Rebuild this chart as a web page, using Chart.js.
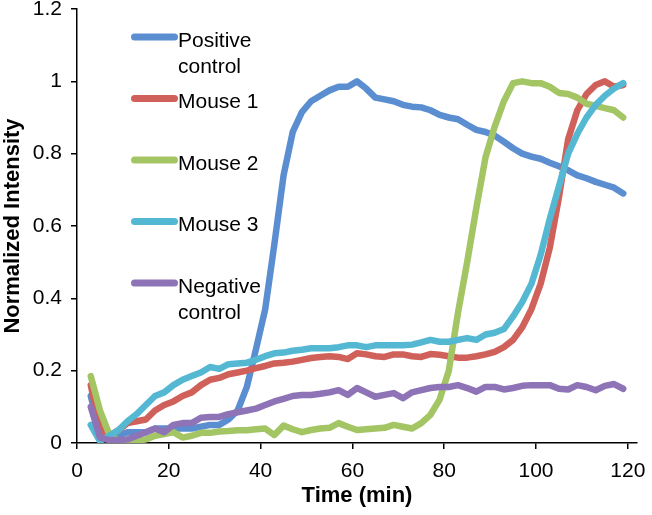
<!DOCTYPE html>
<html>
<head>
<meta charset="utf-8">
<script src="https://cdn.jsdelivr.net/npm/chart.js@4.4.1/dist/chart.umd.min.js"></script>
<style>
  html, body { margin: 0; padding: 0; background: #fff; }
  #wrap { width: 652px; height: 515px; }
</style>
</head>
<body>
<div id="wrap"><canvas id="chart"></canvas></div>
<script>
// Time points (min)
const times = [3, 5, 7, 9, 11, 13, 15, 17, 19, 21, 23, 25, 27, 29, 31, 33, 35, 37, 39, 41,
               43, 45, 47, 49, 51, 53, 55, 57, 59, 61, 63, 65, 67, 69, 71, 73, 75, 77, 79, 81,
               83, 85, 87, 89, 91, 93, 95, 97, 99, 101, 103, 105, 107, 109, 111, 113, 115, 117, 119];

const positiveControl = [0.13, 0.03, 0.01, 0.02, 0.03, 0.03, 0.03, 0.04, 0.04, 0.04,
                         0.04, 0.04, 0.045, 0.05, 0.05, 0.065, 0.09, 0.155, 0.26, 0.37,
                         0.55, 0.74, 0.86, 0.915, 0.945, 0.96, 0.975, 0.985, 0.985, 1.0,
                         0.98, 0.955, 0.95, 0.945, 0.935, 0.93, 0.928, 0.92, 0.907, 0.9,
                         0.895, 0.88, 0.866, 0.86, 0.85, 0.833, 0.815, 0.8, 0.792, 0.786,
                         0.775, 0.765, 0.754, 0.74, 0.732, 0.722, 0.714, 0.706, 0.69];

const mouse1 = [0.16, 0.04, 0.02, 0.035, 0.055, 0.06, 0.065, 0.09, 0.105, 0.115,
                0.13, 0.14, 0.16, 0.175, 0.18, 0.19, 0.195, 0.2, 0.207, 0.213,
                0.22, 0.222, 0.225, 0.23, 0.235, 0.238, 0.24, 0.238, 0.232, 0.248,
                0.245, 0.24, 0.238, 0.245, 0.245, 0.24, 0.238, 0.246, 0.244, 0.24,
                0.236, 0.236, 0.24, 0.245, 0.252, 0.265, 0.285, 0.32, 0.37, 0.44,
                0.54, 0.68, 0.84, 0.92, 0.965, 0.99, 1.0, 0.985, 0.99];

const mouse2 = [0.185, 0.09, 0.025, 0.005, 0.0, 0.005, 0.01, 0.02, 0.025, 0.03,
                0.015, 0.02, 0.028, 0.028, 0.032, 0.033, 0.035, 0.035, 0.038, 0.04,
                0.022, 0.048, 0.038, 0.03, 0.036, 0.04, 0.042, 0.055, 0.045, 0.036,
                0.038, 0.04, 0.042, 0.05, 0.045, 0.04, 0.055, 0.078, 0.12, 0.2,
                0.36, 0.5, 0.65, 0.79, 0.875, 0.945, 0.995, 1.0, 0.995, 0.995,
                0.985, 0.968, 0.965, 0.955, 0.938, 0.932, 0.926, 0.92, 0.9];

const mouse3 = [0.05, 0.005, 0.02, 0.035, 0.06, 0.08, 0.105, 0.13, 0.14, 0.16,
                0.175, 0.185, 0.195, 0.21, 0.205, 0.218, 0.22, 0.222, 0.23, 0.24,
                0.248, 0.25, 0.255, 0.258, 0.262, 0.262, 0.262, 0.265, 0.27, 0.27,
                0.265, 0.27, 0.27, 0.27, 0.27, 0.272, 0.278, 0.285, 0.28, 0.28,
                0.285, 0.29, 0.285, 0.3, 0.305, 0.315, 0.35, 0.39, 0.44, 0.52,
                0.62, 0.71, 0.8, 0.855, 0.9, 0.935, 0.96, 0.98, 0.995];

const negativeControl = [0.1, 0.015, 0.008, 0.008, 0.01, 0.02, 0.03, 0.04, 0.03, 0.05,
                         0.055, 0.055, 0.07, 0.072, 0.072, 0.08, 0.085, 0.09, 0.095, 0.105,
                         0.115, 0.122, 0.13, 0.133, 0.133, 0.136, 0.14, 0.146, 0.133, 0.152,
                         0.14, 0.128, 0.133, 0.138, 0.124, 0.14, 0.146, 0.152, 0.155, 0.155,
                         0.16, 0.152, 0.142, 0.155, 0.155, 0.148, 0.152, 0.158, 0.16, 0.16,
                         0.16, 0.15, 0.148, 0.16, 0.155, 0.146, 0.158, 0.163, 0.15];

const xTicks = [0, 20, 40, 60, 80, 100, 120];

const seriesNames = ['Positive control', 'Mouse 1', 'Mouse 2', 'Mouse 3', 'Negative control'];
const legendLines = [['Positive', 'control'], ['Mouse 1'], ['Mouse 2'], ['Mouse 3'], ['Negative', 'control']];
const seriesColors = ['#5A8ED0', '#D0605A', '#A3C563', '#55B8D3', '#8E74B6'];
const seriesData = [positiveControl, mouse1, mouse2, mouse3, negativeControl];

const FONT = '"Liberation Sans", Arial, sans-serif';

// Legend drawn inside the plot area, Excel style
const insideLegend = {
    id: 'insideLegend',
    afterDraw(chart) {
        const ctx = chart.ctx;
        const x0 = 134.5, x1 = 174.5;
        const startY = 37, gap = 61.5;
        ctx.save();
        ctx.font = '21px ' + FONT;
        ctx.fillStyle = '#000';
        ctx.textBaseline = 'middle';
        ctx.textAlign = 'left';
        legendLines.forEach((lines, i) => {
            const y = startY + i * gap;
            ctx.strokeStyle = seriesColors[i];
            ctx.lineWidth = 7;
            ctx.lineCap = 'round';
            ctx.beginPath();
            ctx.moveTo(x0, y);
            ctx.lineTo(x1, y);
            ctx.stroke();
            lines.forEach((t, j) => ctx.fillText(t, 178, y + 4 + j * 26));
        });
        ctx.restore();
    }
};

const datasets = seriesData.map((d, i) => ({
    label: seriesNames[i],
    data: times.map((t, k) => ({ x: t, y: d[k] })),
    borderColor: seriesColors[i],
    backgroundColor: seriesColors[i],
    borderWidth: 6.5,
    borderCapStyle: 'round',
    borderJoinStyle: 'round',
    pointRadius: 0,
    tension: 0,
    fill: false,
    order: seriesData.length - 1 - i
}));

new Chart(document.getElementById('chart'), {
    type: 'line',
    data: { datasets: datasets },
    options: {
        responsive: true,
        maintainAspectRatio: false,
        animation: false,
        layout: { padding: { left: 0, right: 15, top: 0, bottom: 0 } },
        plugins: {
            legend: { display: false },
            tooltip: { enabled: false }
        },
        scales: {
            x: {
                type: 'linear',
                min: 0,
                max: 122,
                afterFit(scale) {
                    scale.height = 72;
                    scale.paddingLeft = 0;
                    scale.paddingRight = 0;
                },
                afterBuildTicks(scale) {
                    scale.ticks = xTicks.map(v => ({ value: v }));
                },
                border: { display: true, color: '#000', width: 1.5 },
                grid: { display: true, drawOnChartArea: false, drawTicks: true, tickLength: 6, color: '#000', lineWidth: 1.5 },
                ticks: { color: '#000', font: { family: FONT, size: 21 }, padding: 10, maxRotation: 0 },
                title: { display: true, text: 'Time (min)', color: '#000', font: { family: FONT, size: 22, weight: 'bold' }, padding: { top: 2, bottom: 6 } }
            },
            y: {
                min: 0,
                max: 1.2,
                afterFit(scale) {
                    scale.width = 77;
                    scale.paddingTop = 9;
                    scale.paddingBottom = 0;
                },
                border: { display: true, color: '#000', width: 1.5 },
                grid: { display: true, drawOnChartArea: false, drawTicks: true, tickLength: 6, color: '#000', lineWidth: 1.5 },
                ticks: {
                    stepSize: 0.2,
                    color: '#000',
                    font: { family: FONT, size: 21 },
                    padding: 9,
                    callback: v => String(Math.round(v * 10) / 10)
                },
                title: { display: true, text: 'Normalized Intensity', color: '#000', font: { family: FONT, size: 22, weight: 'bold' }, padding: { top: 0, bottom: 0 } }
            }
        }
    },
    plugins: [insideLegend]
});
</script>
</body>
</html>
